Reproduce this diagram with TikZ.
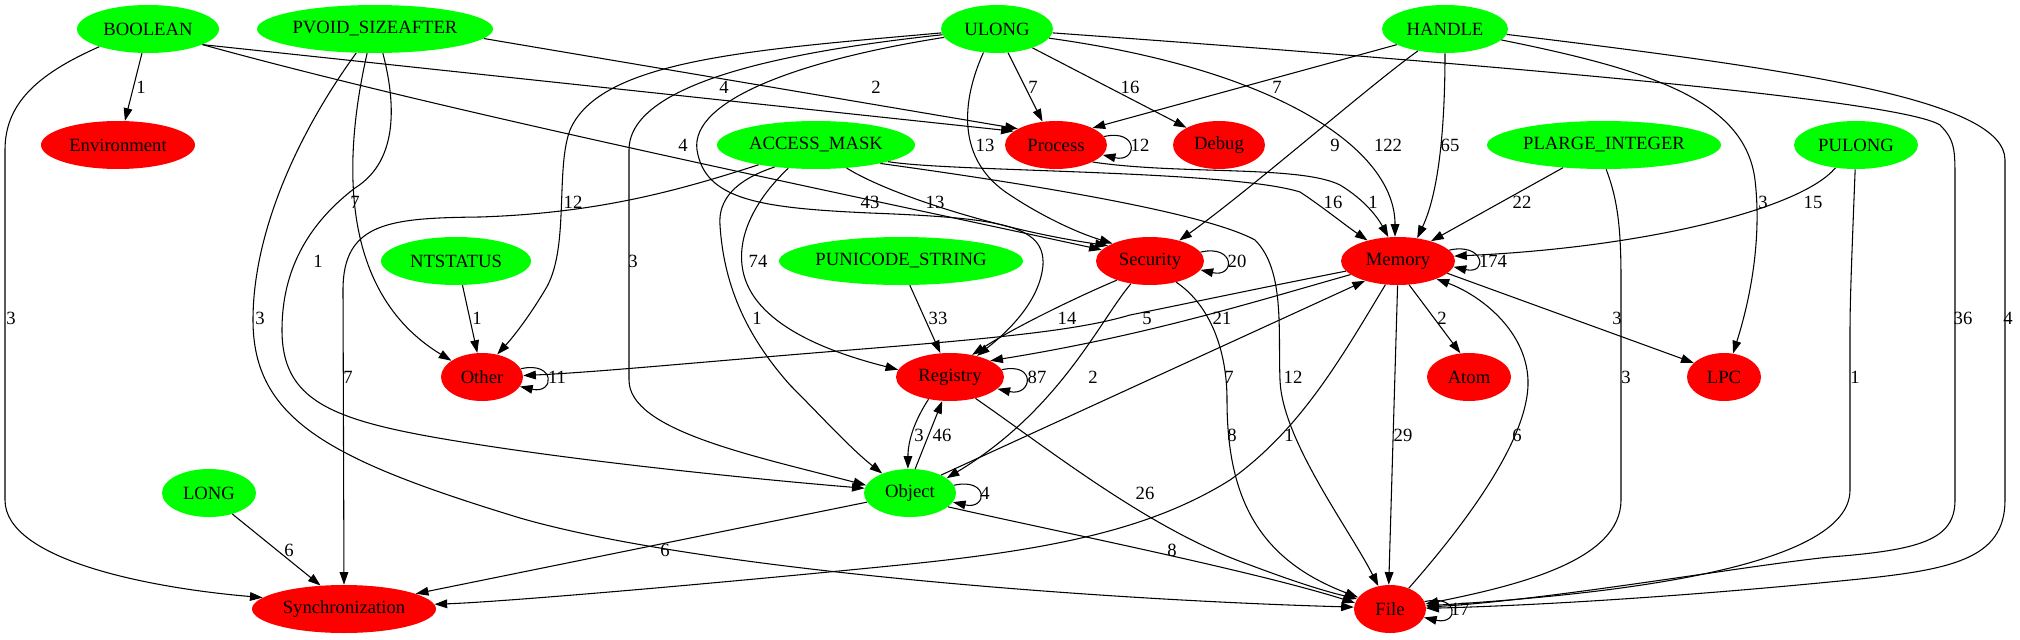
\documentclass[tikz,border=0pt]{standalone}
\usepackage{fontspec}
\setmainfont{Liberation Serif}
\usetikzlibrary{shapes.geometric,arrows.meta}
\definecolor{gvgreen}{RGB}{0,255,0}
\definecolor{gvred}{RGB}{255,0,0}
\begin{document}
\begin{tikzpicture}[x=0.75pt,y=-0.75pt,
  every node/.style={font=\fontsize{14pt}{16pt}\selectfont},
  nbase/.style={ellipse, inner sep=0pt, minimum height=36pt},
  gn/.style={nbase, fill=gvgreen},
  rn/.style={nbase, fill=gvred},
  edg/.style={draw=black, line width=0.8pt, -{Triangle[length=9.5pt,width=6.5pt]}},
  lab/.style={inner sep=0.5pt}]
\fill[white] (0,0) rectangle (2020,639);
\useasboundingbox (0,0) rectangle (2020,639);
% nodes
\node[gn, minimum width=106.5pt] (BOOL) at (148,29) {BOOLEAN};
\node[gn, minimum width=177pt] (PVOID) at (375,29) {PVOID\_SIZEAFTER};
\node[gn, minimum width=84pt] (ULONG) at (997,29) {ULONG};
\node[gn, minimum width=94.5pt] (HANDLE) at (1445,29) {HANDLE};
\node[rn, minimum width=115.5pt] (ENV) at (118,145) {Environment};
\node[gn, minimum width=148.5pt] (AM) at (816,145) {ACCESS\_MASK};
\node[rn, minimum width=76.5pt] (PROC) at (1056,145) {Process};
\node[rn, minimum width=69pt] (DBG) at (1219,145) {Debug};
\node[gn, minimum width=175.5pt] (PLI) at (1604,145) {PLARGE\_INTEGER};
\node[gn, minimum width=93pt] (PUL) at (1856,145) {PULONG};
\node[gn, minimum width=112.5pt] (NTS) at (456,261) {NTSTATUS};
\node[gn, minimum width=183pt] (PUS) at (901,261) {PUNICODE\_STRING};
\node[rn, minimum width=81pt] (SEC) at (1150,261) {Security};
\node[rn, minimum width=85.5pt] (MEM) at (1398,261) {Memory};
\node[rn, minimum width=61.5pt] (OTH) at (482,377) {Other};
\node[rn, minimum width=81pt] (REG) at (950,377) {Registry};
\node[rn, minimum width=63pt] (ATOM) at (1469,377) {Atom};
\node[rn, minimum width=55.5pt] (LPC) at (1724,377) {LPC};
\node[gn, minimum width=70.5pt] (LONG) at (209,493) {LONG};
\node[gn, minimum width=69pt] (OBJ) at (910,493) {Object};
\node[rn, minimum width=138pt] (SYNC) at (344,609) {Synchronization};
\node[rn, minimum width=54pt] (FILE) at (1390,609) {File};
% BOOLEAN
\draw[edg] (BOOL.-104) -- (ENV.74);
\draw[edg] (BOOL.-160) .. controls (35,75) and (5,105) .. (5,150) -- (5,500) .. controls (5,560) and (150,588) .. (SYNC.172);
\draw[edg] (BOOL.-16) -- (PROC.162);
\draw[edg] (BOOL.-16) .. controls (450,113) and (850,195) .. (SEC.167);
% PVOID_SIZEAFTER
\draw[edg] (PVOID.-5) -- (PROC.157);
\draw[edg] (PVOID.-108) .. controls (345,150) and (335,290) .. (OTH.152);
\draw[edg] (PVOID.-72) .. controls (395,100) and (400,160) .. (355,188) .. controls (300,230) and (282,280) .. (282,330) .. controls (282,400) and (330,420) .. (450,440) .. controls (600,465) and (800,483) .. (OBJ.174);
\draw[edg] (PVOID.-128) .. controls (300,130) and (253,230) .. (253,320) .. controls (253,420) and (330,460) .. (520,518) .. controls (700,570) and (1100,600) .. (FILE.177);
% ULONG
\draw[edg] (ULONG.-65) -- (PROC.120);
\draw[edg] (ULONG.-28) -- (DBG.152);
\draw[edg] (ULONG.-10) .. controls (1280,70) and (1395,150) .. (MEM.97);
\draw[edg] (ULONG.-120) .. controls (962,100) and (955,160) .. (1010,195) .. controls (1040,215) and (1075,232) .. (SEC.155);
\draw[edg] (ULONG.-176) .. controls (750,50) and (600,60) .. (570,130) .. controls (555,170) and (570,250) .. (545,290) .. controls (530,315) and (515,335) .. (OTH.56);
\draw[edg] (ULONG.-174) .. controls (800,50) and (629,80) .. (629,150) -- (629,380) .. controls (629,430) and (750,455) .. (OBJ.170);
\draw[edg] (ULONG.-171) .. controls (800,60) and (690,100) .. (697,150) .. controls (705,200) and (760,208) .. (870,213) .. controls (1000,218) and (1045,225) .. (1043,265) .. controls (1040,300) and (1010,330) .. (REG.38);
\draw[edg] (ULONG.-4) .. controls (1500,65) and (1900,100) .. (1940,125) .. controls (1955,140) and (1955,150) .. (1955,180) -- (1955,500) .. controls (1955,540) and (1920,550) .. (1830,557) .. controls (1750,565) and (1550,600) .. (FILE.3);
% HANDLE
\draw[edg] (HANDLE.-162) -- (PROC.25);
\draw[edg] (HANDLE.-141) .. controls (1370,85) and (1250,190) .. (SEC.35);
\draw[edg] (HANDLE.-90) .. controls (1445,120) and (1440,190) .. (MEM.50);
\draw[edg] (HANDLE.-11) .. controls (1650,70) and (1745,100) .. (1755,180) .. controls (1762,240) and (1750,300) .. (LPC.69);
\draw[edg] (HANDLE.-5) .. controls (1800,70) and (2005,100) .. (2005,160) -- (2005,500) .. controls (2005,560) and (1950,570) .. (1850,580) .. controls (1700,595) and (1550,605) .. (FILE.1);
% ACCESS_MASK
\draw[edg] (AM.-161) .. controls (680,190) and (600,213) .. (480,217) .. controls (390,218) and (343,222) .. (343,290) -- (SYNC.90);
\draw[edg] (AM.-152) .. controls (735,180) and (718,200) .. (720,225) .. controls (724,290) and (750,340) .. (790,385) .. controls (820,415) and (850,448) .. (OBJ.145);
\draw[edg] (AM.-140) .. controls (760,195) and (738,230) .. (742,265) .. controls (748,320) and (820,350) .. (REG.172);
\draw[edg] (AM.-37) .. controls (890,195) and (1000,230) .. (SEC.160);
\draw[edg] (AM.-13) .. controls (950,172) and (1230,170) .. (1300,192) .. controls (1320,205) and (1345,225) .. (MEM.146);
\draw[edg] (AM.-16) .. controls (1000,180) and (1200,210) .. (1255,240) .. controls (1285,270) and (1278,330) .. (1280,380) .. controls (1282,440) and (1350,530) .. (FILE.117);
% Process
\draw[edg] (PROC.10) .. controls +(35,-8) and +(35,8) .. (PROC.-12);
\draw[edg] (PROC.-25) .. controls (1180,175) and (1300,165) .. (1340,185) .. controls (1365,200) and (1378,218) .. (MEM.112);
% PLARGE_INTEGER, PULONG
\draw[edg] (PLI.-151) -- (MEM.31);
\draw[edg] (PLI.-85) .. controls (1618,200) and (1621,230) .. (1621,280) -- (1621,500) .. controls (1621,560) and (1520,585) .. (FILE.8);
\draw[edg] (PUL.-132) .. controls (1800,210) and (1640,248) .. (MEM.5);
\draw[edg] (PUL.-92) .. controls (1852,250) and (1850,300) .. (1850,330) -- (1850,490) .. controls (1850,570) and (1600,595) .. (FILE.5);
% NTSTATUS, PUNICODE_STRING
\draw[edg] (NTS.-75) -- (OTH.101);
\draw[edg] (PUS.-70) -- (REG.112);
% Security
\draw[edg] (SEC.10) .. controls +(35,-8) and +(35,8) .. (SEC.-10);
\draw[edg] (SEC.-150) .. controls (1070,300) and (1010,330) .. (REG.45);
\draw[edg] (SEC.-130) .. controls (1100,320) and (1060,410) .. (OBJ.22);
\draw[edg] (SEC.-39) .. controls (1210,305) and (1227,350) .. (1227,400) .. controls (1227,500) and (1260,560) .. (FILE.160);
% Memory
\draw[edg] (MEM.12) .. controls +(35,-8) and +(35,8) .. (MEM.-6);
\draw[edg] (MEM.-169) .. controls (1250,290) and (1180,305) .. (1130,315) .. controls (1080,330) and (1000,338) .. (850,350) .. controls (700,362) and (600,372) .. (OTH.2);
\draw[edg] (MEM.-164) .. controls (1260,300) and (1150,335) .. (REG.22);
\draw[edg] (MEM.-65) -- (ATOM.110);
\draw[edg] (MEM.-14) -- (LPC.155);
\draw[edg] (MEM.-91) -- (FILE.93);
\draw[edg] (MEM.-118) .. controls (1340,360) and (1300,430) .. (1230,480) .. controls (1150,530) and (1050,550) .. (900,565) .. controls (700,585) and (500,602) .. (SYNC.3);
% Other
\draw[edg] (OTH.12) .. controls +(35,-8) and +(35,8) .. (OTH.-14);
% Registry
\draw[edg] (REG.8) .. controls +(35,-8) and +(35,8) .. (REG.-14);
\draw[edg] (REG.-134) .. controls (915,420) and (908,440) .. (OBJ.95);
\draw[edg] (REG.-40) .. controls (1050,450) and (1150,530) .. (1250,565) .. controls (1290,580) and (1320,590) .. (FILE.163);
% Object
\draw[edg] (OBJ.10) .. controls +(35,-8) and +(35,8) .. (OBJ.-12);
\draw[edg] (OBJ.78) -- (REG.-108);
\draw[edg] (OBJ.30) -- (MEM.-149);
\draw[edg] (OBJ.-168) -- (SYNC.12);
\draw[edg] (OBJ.-20) .. controls (1050,530) and (1250,570) .. (FILE.170);
% LONG
\draw[edg] (LONG.-42) -- (SYNC.135);
% File
\draw[edg] (FILE.12) .. controls +(35,-8) and +(35,8) .. (FILE.-14);
\draw[edg] (FILE.48) .. controls (1460,530) and (1530,440) .. (1528,380) .. controls (1526,330) and (1480,295) .. (MEM.-25);
% edge labels
\node[lab] (l1) at (141,87) {1};
\node[lab] (l2) at (11,318) {3};
\node[lab] (l3) at (724,87) {4};
\node[lab] (l4) at (683,145) {4};
\node[lab] (l5) at (876,87) {2};
\node[lab] (l6) at (355,202) {7};
\node[lab] (l7) at (318,261) {1};
\node[lab] (l8) at (260,318) {3};
\node[lab] (l9) at (1033,87) {7};
\node[lab] (l10) at (1130,87) {16};
\node[lab] (l11) at (1388,145) {122};
\node[lab] (l12) at (985,145) {13};
\node[lab] (l13) at (573,202) {12};
\node[lab] (l14) at (633,261) {3};
\node[lab] (l15) at (870,202) {43};
\node[lab] (l16) at (1963,318) {36};
\node[lab] (l17) at (1277,87) {7};
\node[lab] (l18) at (1335,145) {9};
\node[lab] (l19) at (1450,145) {65};
\node[lab] (l20) at (1763,202) {3};
\node[lab] (l21) at (2008,318) {4};
\node[lab] (l22) at (348,377) {7};
\node[lab] (l23) at (757,318) {1};
\node[lab] (l24) at (758,261) {74};
\node[lab] (l25) at (935,202) {13};
\node[lab] (l26) at (1333,202) {16};
\node[lab] (l27) at (1293,377) {12};
\node[lab] (l28) at (1373,202) {1};
\node[lab] (l29) at (1522,202) {22};
\node[lab] (l30) at (1626,377) {3};
\node[lab] (l31) at (1813,202) {15};
\node[lab] (l32) at (1855,377) {1};
\node[lab] (l33) at (477,318) {1};
\node[lab] (l34) at (938,318) {33};
\node[lab] (l35) at (1067,318) {14};
\node[lab] (l36) at (1093,377) {2};
\node[lab] (l37) at (1232,435) {8};
\node[lab] (l38) at (1147,318) {5};
\node[lab] (l39) at (1222,318) {21};
\node[lab] (l40) at (1442,318) {2};
\node[lab] (l41) at (1617,318) {3};
\node[lab] (l42) at (1403,435) {29};
\node[lab] (l43) at (1289,435) {1};
\node[lab] (l44) at (919,435) {3};
\node[lab] (l45) at (942,435) {46};
\node[lab] (l46) at (1145,493) {26};
\node[lab] (l47) at (1229,377) {7};
\node[lab] (l48) at (665,550) {6};
\node[lab] (l49) at (1172,550) {8};
\node[lab] (l50) at (289,550) {6};
\node[lab] (l51) at (1517,435) {6};
% loop labels
\node[lab] (l52) at (1140,145) {12};
\node[lab] (l53) at (1237,261) {20};
\node[lab] (l54) at (1493,261) {174};
\node[lab] (l55) at (557,377) {11};
\node[lab] (l56) at (1037,377) {87};
\node[lab] (l57) at (985,493) {4};
\node[lab] (l58) at (1460,609) {17};
\end{tikzpicture}
\end{document}
